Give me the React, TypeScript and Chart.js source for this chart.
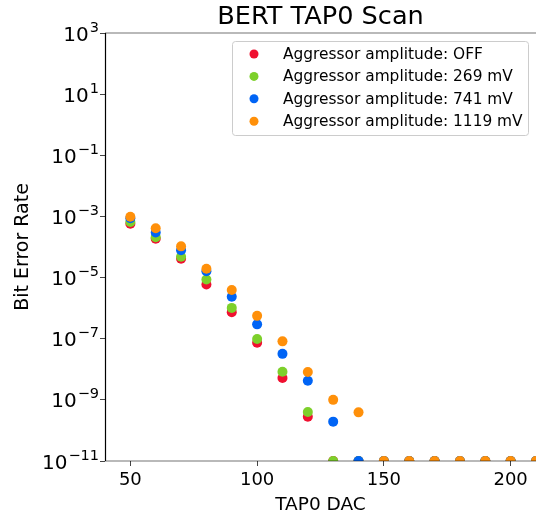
import React, { useEffect, useRef } from 'react';
import { Chart, registerables } from 'chart.js';

Chart.register(...registerables);

// ---- Data ----
const tapDac = [50, 60, 70, 80, 90, 100, 110, 120, 130, 140, 150, 160, 170, 180, 190, 200, 210];

const berOff = [5.8e-4, 1.86e-4, 4.1e-5, 5.9e-6, 7.4e-7, 7.4e-8, 5.2e-9, 2.8e-10, 1e-11, 1e-11, 1e-11, 1e-11, 1e-11, 1e-11, 1e-11, 1e-11, 1e-11];
const ber269 = [6.6e-4, 2.1e-4, 4.8e-5, 8.7e-6, 1.02e-6, 9.8e-8, 8.3e-9, 4.0e-10, 1e-11, 1e-11, 1e-11, 1e-11, 1e-11, 1e-11, 1e-11, 1e-11, 1e-11];
const ber741 = [8.7e-4, 3.0e-4, 7.9e-5, 1.6e-5, 2.35e-6, 2.95e-7, 3.2e-8, 4.2e-9, 1.94e-10, 1e-11, 1e-11, 1e-11, 1e-11, 1e-11, 1e-11, 1e-11, 1e-11];
const ber1119 = [9.8e-4, 4.1e-4, 1.05e-4, 1.95e-5, 3.9e-6, 5.6e-7, 8.2e-8, 8.1e-9, 1.0e-9, 3.9e-10, 1e-11, 1e-11, 1e-11, 1e-11, 1e-11, 1e-11, 1e-11];

const seriesLabels = [
  'Aggressor amplitude: OFF',
  'Aggressor amplitude: 269 mV',
  'Aggressor amplitude: 741 mV',
  'Aggressor amplitude: 1119 mV',
];
const seriesValues = [berOff, ber269, ber741, ber1119];
const seriesColors = ['#f01030', '#7dd02b', '#0064f5', '#ff900a'];

const xTickValues = [50, 100, 150, 200];
const yTickExponents = [-11, -9, -7, -5, -3, -1, 1, 3];

const chartTitle = 'BERT TAP0 Scan';
const xTitle = 'TAP0 DAC';
const yTitle = 'Bit Error Rate';

const FONT = "'DejaVu Sans', sans-serif";

const supMap: Record<string, string> = { '-': '\u2212' };
function expText(e: number): string {
  return String(e).split('').map((c) => supMap[c] || c).join('');
}

const decorPlugin = {
  id: 'decor',
  afterDatasetsDraw(chart: any) {
    const { ctx, chartArea } = chart;
    const { left, right, top, bottom } = chartArea;
    ctx.save();
    // spines
    ctx.strokeStyle = 'rgba(0,0,0,0.55)';
    ctx.lineWidth = 1;
    ctx.beginPath();
    ctx.moveTo(left, top);
    ctx.lineTo(right, top);
    ctx.moveTo(left, bottom);
    ctx.lineTo(right, bottom);
    ctx.stroke();
    ctx.strokeStyle = '#000';
    ctx.lineWidth = 1.2;
    ctx.beginPath();
    ctx.moveTo(left + 0.5, top);
    ctx.lineTo(left + 0.5, bottom);
    ctx.stroke();

    // legend
    const bx = 232.5, by = 41.5, bw = 296, bh = 94, r = 3;
    ctx.beginPath();
    ctx.moveTo(bx + r, by);
    ctx.lineTo(bx + bw - r, by);
    ctx.arcTo(bx + bw, by, bx + bw, by + r, r);
    ctx.lineTo(bx + bw, by + bh - r);
    ctx.arcTo(bx + bw, by + bh, bx + bw - r, by + bh, r);
    ctx.lineTo(bx + r, by + bh);
    ctx.arcTo(bx, by + bh, bx, by + bh - r, r);
    ctx.lineTo(bx, by + r);
    ctx.arcTo(bx, by, bx + r, by, r);
    ctx.closePath();
    ctx.fillStyle = 'rgba(255,255,255,0.8)';
    ctx.fill();
    ctx.strokeStyle = '#cccccc';
    ctx.lineWidth = 1;
    ctx.stroke();
    ctx.font = `15.4px ${FONT}`;
    ctx.textBaseline = 'middle';
    ctx.textAlign = 'left';
    seriesLabels.forEach((lab, i) => {
      const cy = 54 + i * 22.4;
      ctx.fillStyle = seriesColors[i];
      ctx.beginPath();
      ctx.arc(254, cy, 4.5, 0, Math.PI * 2);
      ctx.fill();
      ctx.fillStyle = '#000';
      ctx.fillText(lab, 283, cy + 1);
    });
    ctx.restore();
  },
  afterDraw(chart: any) {
    const { ctx, chartArea } = chart;
    const yScale = chart.scales.y;
    ctx.save();
    // title
    ctx.font = `25.6px ${FONT}`;
    ctx.fillStyle = '#000';
    ctx.textAlign = 'center';
    ctx.textBaseline = 'alphabetic';
    ctx.fillText(chartTitle, (chartArea.left + chartArea.right) / 2, 24);
    // y tick labels 10^n
    const baseSize = 20;
    const supSize = 14.5;
    ctx.textAlign = 'left';
    yTickExponents.forEach((e) => {
      const py = yScale.getPixelForValue(Number('1e' + e));
      ctx.font = `${baseSize}px ${FONT}`;
      const w1 = ctx.measureText('10').width;
      ctx.font = `${supSize}px ${FONT}`;
      const sup = expText(e);
      const w2 = ctx.measureText(sup).width;
      const x0 = chartArea.left - 6 - (w1 + w2 + 1);
      const base = py + 7.5;
      ctx.font = `${baseSize}px ${FONT}`;
      ctx.fillText('10', x0, base);
      ctx.font = `${supSize}px ${FONT}`;
      ctx.fillText(sup, x0 + w1 + 1, base - 9);
    });
    ctx.restore();
  },
};

export default function App() {
  const canvasRef = useRef<HTMLCanvasElement | null>(null);

  useEffect(() => {
    const canvas = canvasRef.current;
    if (!canvas) return;
    const datasets = seriesValues.map((vals, i) => ({
      label: seriesLabels[i],
      data: tapDac.map((x, j) => ({ x, y: vals[j] })),
      backgroundColor: seriesColors[i],
      borderColor: seriesColors[i],
      borderWidth: 0,
      pointRadius: 5,
      pointHoverRadius: 5,
      order: seriesValues.length - 1 - i,
    }));
    const chart = new Chart(canvas, {
      type: 'scatter',
      data: { datasets },
      options: {
        responsive: false,
        animation: false,
        events: [],
        layout: { padding: { top: 33, left: 0, right: 0, bottom: 0 }, autoPadding: false },
        plugins: {
          legend: { display: false },
          title: { display: false },
          tooltip: { enabled: false },
        },
        scales: {
          x: {
            type: 'linear',
            min: 40,
            max: 210,
            afterBuildTicks: (s: any) => {
              s.ticks = xTickValues.map((v) => ({ value: v }));
            },
            afterFit: (s: any) => {
              s.height = 56;
            },
            grid: { drawOnChartArea: false, tickLength: 5, tickColor: '#444', lineWidth: 1 },
            border: { display: false },
            ticks: {
              font: { family: FONT, size: 18 },
              color: '#000',
              padding: 4,
              maxRotation: 0,
              autoSkip: false,
              callback: (v: any) => String(v),
            },
            title: {
              display: true,
              text: xTitle,
              font: { family: FONT, size: 18.5 },
              color: '#000',
              padding: { top: 0, bottom: 1 },
            },
          },
          y: {
            type: 'logarithmic',
            min: 1e-11,
            max: 1e3,
            afterBuildTicks: (s: any) => {
              s.ticks = yTickExponents.map((e) => ({ value: Number('1e' + e) }));
            },
            afterFit: (s: any) => {
              s.width = 105;
            },
            grid: { drawOnChartArea: false, tickLength: 5, tickColor: '#444', lineWidth: 1 },
            border: { display: false },
            ticks: { display: false },
            title: {
              display: true,
              text: yTitle,
              font: { family: FONT, size: 19 },
              color: '#000',
              padding: { top: 12, bottom: 0 },
            },
          },
        },
      },
      plugins: [decorPlugin],
    } as any);
    return () => {
      chart.destroy();
    };
  }, []);

  return (
    <div style={{ position: 'fixed', left: 0, top: 0, width: 536, height: 517, background: '#fff' }}>
      <canvas ref={canvasRef} width={536} height={517} style={{ display: 'block' }} />
    </div>
  );
}
